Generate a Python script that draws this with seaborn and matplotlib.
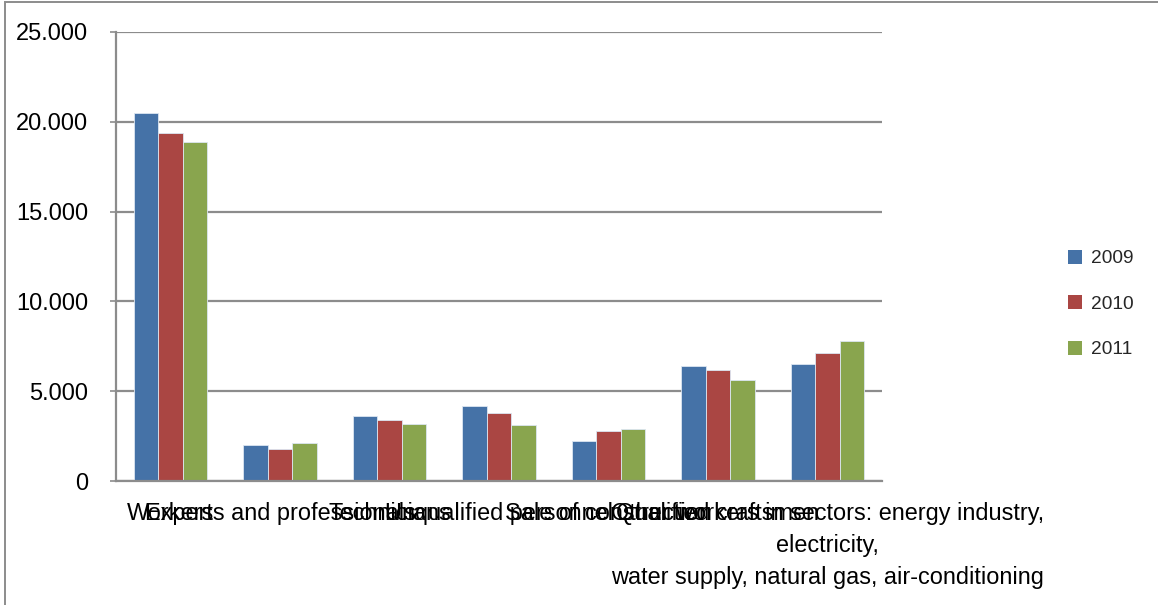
import matplotlib
matplotlib.use("Agg")
import matplotlib.pyplot as plt
from matplotlib import font_manager
from matplotlib.patches import Rectangle, Patch
from matplotlib.ticker import FuncFormatter, MultipleLocator
import seaborn as sns
import pandas as pd

# Employees by occupation group, 2009-2011
categories = [
    "Workers",
    "Experts and professionals",
    "Technicians",
    "Unqualified personnel",
    "Sale of construction",
    "Qualified craftsmen",
    "Other workers in sectors: energy industry,\nelectricity,\nwater supply, natural gas, air-conditioning",
]
years = ["2009", "2010", "2011"]
values_2009 = [20500, 2000, 3600, 4200, 2200, 6400, 6500]
values_2010 = [19400, 1800, 3400, 3800, 2800, 6200, 7100]
values_2011 = [18900, 2100, 3200, 3100, 2900, 5600, 7800]
colors = ["#4572A7", "#AA4643", "#89A54E"]

rows = []
for year, vals in zip(years, [values_2009, values_2010, values_2011]):
    for cat, v in zip(categories, vals):
        rows.append({"category": cat, "year": year, "value": v})
df = pd.DataFrame(rows)

sns.set_style("white")
installed = {f.name for f in font_manager.fontManager.ttflist}
family = "Liberation Sans" if "Liberation Sans" in installed else "DejaVu Sans"
plt.rcParams["font.family"] = [family, "DejaVu Sans"]

W, H = 1158, 605
fig = plt.figure(figsize=(W / 100, H / 100), dpi=100)
ax = fig.add_axes([116 / W, 1 - 481 / H, (882 - 116) / W, (481 - 32) / H])

sns.barplot(
    data=df, x="category", y="value", hue="year", order=categories,
    hue_order=years, palette=colors, width=0.67, gap=0, saturation=1,
    edgecolor="#dce6f2", linewidth=0.6, legend=False, ax=ax,
)

grid_color = "#8c8c8c"
ax.set_ylim(0, 25000)
ax.set_xlim(-0.5, len(categories) - 0.5)
ax.yaxis.set_major_locator(MultipleLocator(5000))
ax.yaxis.set_major_formatter(FuncFormatter(lambda v, p: f"{int(v):,}".replace(",", ".")))
ax.grid(axis="y", color=grid_color, linewidth=1.6)
ax.set_axisbelow(True)
for side in ["top", "right"]:
    ax.spines[side].set_visible(False)
for side in ["left", "bottom"]:
    ax.spines[side].set_color(grid_color)
    ax.spines[side].set_linewidth(1.6)
ax.tick_params(axis="y", length=4, width=1.2, color=grid_color, pad=16,
               labelsize=17, labelcolor="#000000", left=True)
ax.tick_params(axis="x", length=0, pad=15, labelsize=16.9, labelcolor="#000000")
for lbl in ax.get_xticklabels():
    lbl.set_linespacing(1.5)
ax.set_xlabel("")
ax.set_ylabel("")

handles = [Patch(facecolor=c, edgecolor="none") for c in colors]
fig.legend(
    handles, years, loc="center left",
    bbox_to_anchor=(1068 / W, 1 - 304 / H), bbox_transform=fig.transFigure,
    frameon=False, fontsize=13.8, handlelength=0.75, handleheight=0.75,
    handletextpad=0.45, labelspacing=1.45, borderpad=0, borderaxespad=0,
)

# outer chart frame
fig.patches.append(Rectangle((5 / W, -0.05), 1.2, 1.05 - 2 / H,
                             transform=fig.transFigure, fill=False,
                             edgecolor="#8c8c8c", linewidth=1.4))

fig.savefig("out.png", dpi=100)
